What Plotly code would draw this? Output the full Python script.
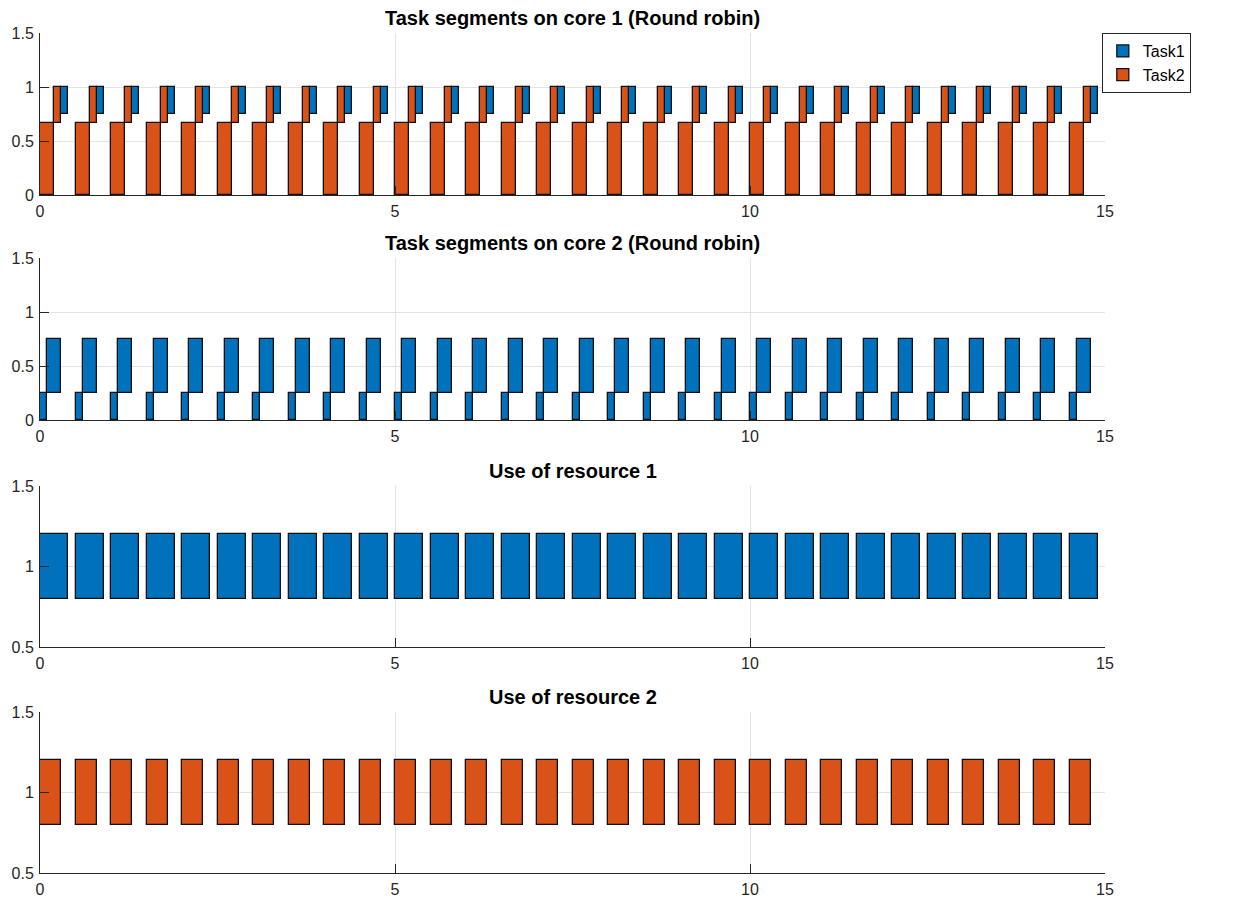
import plotly.graph_objects as go

# ---------------- data ----------------
# start time of each scheduling period (s)
period_start = [0.0, 0.5, 1.0, 1.5, 2.0, 2.5, 3.0, 3.5, 4.0, 4.5,
                5.0, 5.5, 6.0, 6.5, 7.0, 7.5, 8.0, 8.5, 9.0, 9.5,
                10.0, 10.5, 11.0, 11.5, 12.0, 12.5, 13.0, 13.5, 14.0, 14.5]

tasks = ["Task1", "Task2"]
task_colors = {"Task1": "#0072BD", "Task2": "#D95319"}

# segments inside each period: task, offset (s), duration (s), low level, high level
core1_task = ["Task2", "Task2", "Task1"]
core1_offset = [0.0, 0.2, 0.3]
core1_dur = [0.2, 0.1, 0.1]
core1_low = [0.0, 0.667, 0.75]
core1_high = [0.667, 1.0, 1.0]

core2_task = ["Task1", "Task1"]
core2_offset = [0.0, 0.1]
core2_dur = [0.1, 0.2]
core2_low = [0.0, 0.25]
core2_high = [0.25, 0.75]

res1_task = ["Task1"]
res1_offset = [0.0]
res1_dur = [0.4]
res1_low = [0.8]
res1_high = [1.2]

res2_task = ["Task2"]
res2_offset = [0.0]
res2_dur = [0.3]
res2_low = [0.8]
res2_high = [1.2]

panel_titles = ["Task segments on core 1 (Round robin)",
                "Task segments on core 2 (Round robin)",
                "Use of resource 1",
                "Use of resource 2"]
panels = [
    (core1_task, core1_offset, core1_dur, core1_low, core1_high),
    (core2_task, core2_offset, core2_dur, core2_low, core2_high),
    (res1_task, res1_offset, res1_dur, res1_low, res1_high),
    (res2_task, res2_offset, res2_dur, res2_low, res2_high),
]
y_ranges = [[0, 1.5], [0, 1.5], [0.5, 1.5], [0.5, 1.5]]
y_ticks = [[0, 0.5, 1, 1.5], [0, 0.5, 1, 1.5], [0.5, 1, 1.5], [0.5, 1, 1.5]]
x_ticks = [0, 5, 10, 15]

# ---------------- figure ----------------
FONT = "Liberation Sans, Arial, Helvetica, sans-serif"
AX = "#262626"
# the page body has an 8px default margin, so the figure is a bit smaller
W, H = 1236, 890
ml, mr, mt, mb = 32, 139, 25, 25
ph = H - mt - mb
# panel pixel tops / bottoms (figure coordinates)
panel_px = [(25, 187), (250, 412), (478, 639), (704, 865)]
domains = [[(H - mb - b) / ph, (H - mb - t) / ph] for t, b in panel_px]

fig = go.Figure()
shown = set()
for i, (ptask, poff, pdur, plow, phigh) in enumerate(panels):
    n = i + 1
    xa = "x" if n == 1 else f"x{n}"
    ya = "y" if n == 1 else f"y{n}"
    for task in tasks:
        xs, ws, bs, hs = [], [], [], []
        for t0 in period_start:
            for tk, off, d, lo, hi in zip(ptask, poff, pdur, plow, phigh):
                if tk == task:
                    xs.append(t0 + off)
                    ws.append(d)
                    bs.append(lo)
                    hs.append(hi - lo)
        if not xs:
            continue
        fig.add_trace(go.Bar(
            x=xs, y=hs, base=bs, width=ws, offset=0,
            marker=dict(color=task_colors[task], line=dict(color="#111111", width=1.3)),
            name=task, legendgroup=task,
            showlegend=(i == 0 and task not in shown),
            xaxis=xa, yaxis=ya,
        ))
        if i == 0:
            shown.add(task)

    common = dict(showline=True, linecolor=AX, linewidth=1, mirror=False,
                  ticks="inside", ticklen=9, tickcolor=AX, tickwidth=1,
                  showgrid=True, gridcolor="#e3e3e3", gridwidth=1, zeroline=False,
                  automargin=False, ticklabelstandoff=2,
                  tickfont=dict(family=FONT, size=16, color=AX))
    xkey = "xaxis" if n == 1 else f"xaxis{n}"
    ykey = "yaxis" if n == 1 else f"yaxis{n}"
    fig.update_layout({
        xkey: dict(domain=[0, 1], anchor=ya, range=[0, 15], tickvals=x_ticks, **common),
        ykey: dict(domain=domains[i], anchor=xa, range=y_ranges[i], tickvals=y_ticks[i], **common),
    })
    fig.add_annotation(
        text=f"<b>{panel_titles[i]}</b>", x=0.5, y=1,
        xref=f"{xa} domain", yref=f"{ya} domain",
        xanchor="center", yanchor="bottom", yshift=2, showarrow=False,
        font=dict(family=FONT, size=20, color="black"),
    )

fig.update_layout(
    width=W, height=H,
    margin=dict(l=ml, r=mr, t=mt, b=mb, autoexpand=False),
    barmode="overlay", bargap=0,
    paper_bgcolor="white", plot_bgcolor="white",
    legend=dict(x=0.997, y=1.0, xanchor="left", yanchor="top",
                bordercolor=AX, borderwidth=1, bgcolor="white",
                font=dict(family=FONT, size=16, color="black"),
                tracegroupgap=0, itemwidth=30),
    showlegend=True,
)

fig.write_html("out.html")
